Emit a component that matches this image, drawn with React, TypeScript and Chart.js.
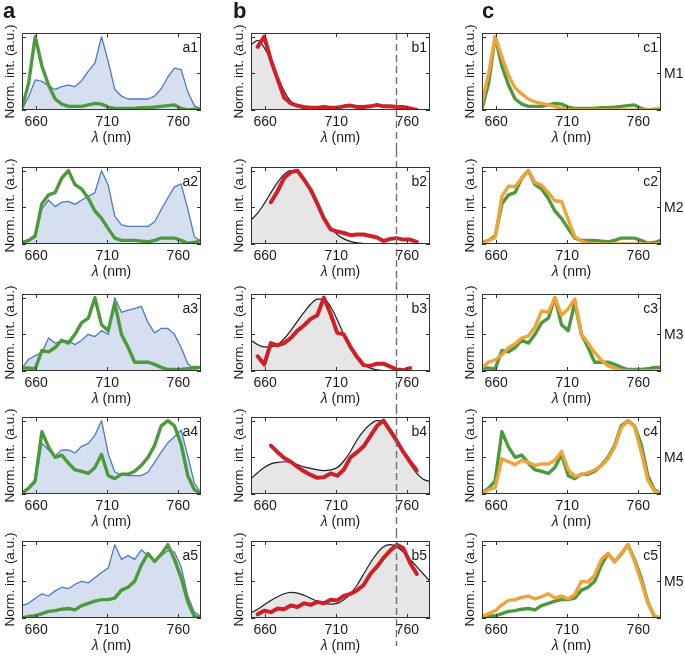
import React, { useEffect, useRef } from "react";
import { Chart, registerables } from "chart.js";

Chart.register(...registerables);

const FONT = '"Liberation Sans", Arial, Helvetica, sans-serif';

// ---------------- data ----------------
const WAVELENGTH_NM = [650, 654.7, 659.3, 664, 668.7, 673.3, 678, 682.7, 687.3, 692, 696.7, 701.3, 706, 710.7, 715.3, 720, 724.7, 729.3, 734, 738.7, 743.3, 748, 752.7, 757.3, 762, 766.7, 771.3, 776];
const X_MIN = 650;
const X_MAX = 776;
const Y_MAX = 1.05;
const X_TICKS = [660, 710, 760];
const Y_TICKS = [0, 0.5, 1];
const SELECTED_NM = 752;

const COLUMN_LETTERS = ["a", "b", "c"];
const COMPONENT_LABELS = ["M1", "M2", "M3", "M4", "M5"];
const Y_TITLE = "Norm. int. (a.u.)";
const X_TITLE_SYMBOL = "λ";
const X_TITLE_UNIT = " (nm)";

// column a: measured spectra (blue, filled)
const BLUE_A1 = [0.01, 0.18, 0.41, 0.39, 0.33, 0.28, 0.32, 0.34, 0.32, 0.4, 0.53, 0.64, 1.0, 0.66, 0.28, 0.19, 0.15, 0.15, 0.15, 0.15, 0.19, 0.29, 0.45, 0.57, 0.55, 0.25, 0.06, 0.01];
const BLUE_A2 = [0.02, 0.04, 0.09, 0.48, 0.6, 0.51, 0.57, 0.58, 0.54, 0.6, 0.65, 0.7, 1.0, 0.8, 0.38, 0.26, 0.24, 0.24, 0.24, 0.24, 0.3, 0.47, 0.63, 0.78, 0.82, 0.48, 0.1, 0.03];
const BLUE_A3 = [0.04, 0.16, 0.21, 0.25, 0.45, 0.38, 0.41, 0.41, 0.36, 0.42, 0.5, 0.47, 0.55, 0.5, 1.0, 0.8, 0.83, 0.85, 0.88, 0.66, 0.52, 0.58, 0.58, 0.5, 0.32, 0.1, 0.02, 0.0];
const BLUE_A4 = [0.0, 0.07, 0.15, 0.69, 0.6, 0.52, 0.6, 0.6, 0.56, 0.65, 0.69, 0.8, 1.0, 0.55, 0.3, 0.26, 0.25, 0.25, 0.25, 0.3, 0.43, 0.57, 0.7, 0.78, 0.87, 0.52, 0.15, 0.01];
const BLUE_A5 = [0.17, 0.2, 0.27, 0.33, 0.3, 0.37, 0.42, 0.4, 0.46, 0.5, 0.48, 0.55, 0.62, 0.68, 1.0, 0.8, 0.85, 0.8, 0.93, 0.85, 0.78, 0.85, 0.92, 0.9, 0.7, 0.3, 0.08, 0.02];

// components M1..M5 (green, used in columns a and c)
const GREEN_M1 = [0.02, 0.37, 1.0, 0.6, 0.34, 0.15, 0.08, 0.05, 0.05, 0.05, 0.07, 0.09, 0.08, 0.04, 0.02, 0.02, 0.02, 0.02, 0.03, 0.03, 0.04, 0.05, 0.06, 0.07, 0.02, 0.0, 0.01, 0.01];
const GREEN_M2 = [0.02, 0.05, 0.11, 0.55, 0.67, 0.7, 0.9, 1.0, 0.81, 0.75, 0.62, 0.45, 0.35, 0.21, 0.08, 0.05, 0.05, 0.05, 0.04, 0.03, 0.05, 0.08, 0.08, 0.08, 0.05, 0.01, 0.02, 0.05];
const GREEN_M3 = [0.04, 0.04, 0.03, 0.28, 0.26, 0.32, 0.42, 0.38, 0.5, 0.66, 0.72, 1.0, 0.63, 0.55, 0.93, 0.5, 0.32, 0.12, 0.12, 0.12, 0.09, 0.05, 0.02, 0.02, 0.02, 0.03, 0.05, 0.05];
const GREEN_M4 = [0.01, 0.08, 0.18, 0.85, 0.64, 0.5, 0.53, 0.42, 0.33, 0.31, 0.28, 0.36, 0.54, 0.25, 0.21, 0.27, 0.27, 0.31, 0.39, 0.5, 0.66, 0.93, 1.0, 0.93, 0.68, 0.25, 0.06, 0.0];
const GREEN_M5 = [0.0, 0.02, 0.03, 0.06, 0.09, 0.1, 0.12, 0.13, 0.11, 0.17, 0.2, 0.23, 0.25, 0.25, 0.27, 0.38, 0.42, 0.5, 0.72, 0.88, 0.77, 0.87, 1.0, 0.8, 0.55, 0.22, 0.02, 0.0];

// column c: reference spectra (orange)
const ORANGE_M1 = [0.1, 0.5, 1.0, 0.72, 0.47, 0.3, 0.22, 0.15, 0.11, 0.09, 0.07, 0.05, 0.02, 0.0, 0.0, 0.0, 0.0, 0.0, 0.0, 0.0, 0.0, 0.0, 0.0, 0.0, 0.0, 0.0, 0.0, 0.0];
const ORANGE_M2 = [0.01, 0.05, 0.09, 0.65, 0.79, 0.78, 0.9, 1.0, 0.84, 0.8, 0.7, 0.59, 0.58, 0.33, 0.1, 0.04, 0.01, 0.0, 0.0, 0.0, 0.0, 0.0, 0.0, 0.0, 0.0, 0.0, 0.0, 0.0];
const ORANGE_M3 = [0.05, 0.12, 0.15, 0.22, 0.32, 0.37, 0.45, 0.48, 0.6, 0.82, 0.8, 1.0, 0.76, 0.85, 0.98, 0.5, 0.38, 0.25, 0.15, 0.07, 0.04, 0.01, 0.0, 0.0, 0.0, 0.0, 0.0, 0.0];
const ORANGE_M4 = [0.0, 0.06, 0.09, 0.48, 0.44, 0.4, 0.46, 0.43, 0.39, 0.41, 0.41, 0.46, 0.58, 0.33, 0.24, 0.26, 0.29, 0.33, 0.38, 0.48, 0.64, 0.9, 1.0, 0.92, 0.58, 0.19, 0.04, 0.0];
const ORANGE_M5 = [0.02, 0.06, 0.1, 0.18, 0.24, 0.25, 0.28, 0.3, 0.26, 0.29, 0.33, 0.27, 0.3, 0.26, 0.32, 0.5, 0.49, 0.58, 0.8, 0.88, 0.76, 0.88, 1.0, 0.78, 0.5, 0.2, 0.03, 0.0];

// column b: measured (red) and fitted (black, grey fill)
const RED_B1 = [null, 0.86, 1.0, 0.68, 0.42, 0.17, 0.09, 0.06, 0.04, 0.03, 0.03, 0.04, 0.03, 0.03, 0.05, 0.06, 0.04, 0.04, 0.05, 0.07, 0.05, 0.05, 0.04, 0.04, 0.02, 0.0, null, null];
const RED_B2 = [null, null, null, 0.57, 0.72, 0.9, 0.98, 1.0, 0.88, 0.74, 0.55, 0.35, 0.2, 0.17, 0.15, 0.12, 0.13, 0.13, 0.11, 0.09, 0.04, 0.07, 0.08, 0.06, 0.06, 0.03, null, null];
const RED_B3 = [null, 0.2, 0.09, 0.38, 0.35, 0.38, 0.45, 0.55, 0.62, 0.71, 0.76, 1.0, 0.78, 0.52, 0.5, 0.33, 0.19, 0.08, 0.07, 0.1, 0.1, 0.06, 0.02, 0.01, 0.04, null, null, null];
const RED_B4 = [null, null, null, 0.66, 0.57, 0.49, 0.44, 0.37, 0.31, 0.26, 0.22, 0.23, 0.28, 0.25, 0.33, 0.5, 0.57, 0.65, 0.79, 0.93, 1.0, 0.86, 0.72, 0.57, 0.44, 0.32, null, null];
const RED_B5 = [null, 0.05, 0.1, 0.08, 0.13, 0.12, 0.17, 0.15, 0.2, 0.18, 0.22, 0.2, 0.25, 0.24, 0.3, 0.33, 0.38, 0.45, 0.6, 0.7, 0.82, 0.92, 1.0, 0.95, 0.75, 0.6, null, null];
const FIT_B1 = [0.89, 0.95, 0.85, 0.68, 0.46, 0.26, 0.12, 0.05, 0.02, 0.01, 0.0, 0.0, 0.0, 0.0, 0.0, 0.0, 0.0, 0.0, 0.0, 0.0, 0.0, 0.0, 0.0, 0.0, 0.0, 0.0, 0.0, 0.0];
const FIT_B2 = [0.33, 0.42, 0.55, 0.7, 0.84, 0.95, 1.0, 0.98, 0.88, 0.72, 0.54, 0.37, 0.23, 0.13, 0.07, 0.035, 0.015, 0.005, 0.0, 0.0, 0.0, 0.0, 0.0, 0.0, 0.0, 0.0, 0.0, 0.0];
const FIT_B3 = [0.42, 0.36, 0.33, 0.33, 0.36, 0.44, 0.55, 0.68, 0.8, 0.91, 0.98, 0.98, 0.88, 0.7, 0.5, 0.32, 0.17, 0.08, 0.04, 0.015, 0.005, 0.0, 0.0, 0.0, 0.0, 0.0, 0.0, 0.0];
const FIT_B4 = [0.21, 0.29, 0.36, 0.41, 0.43, 0.44, 0.43, 0.4, 0.37, 0.35, 0.33, 0.32, 0.33, 0.36, 0.45, 0.58, 0.74, 0.86, 0.95, 1.0, 0.99, 0.89, 0.75, 0.58, 0.41, 0.28, 0.2, 0.17];
const FIT_B5 = [0.07, 0.12, 0.18, 0.24, 0.29, 0.33, 0.35, 0.34, 0.31, 0.27, 0.23, 0.2, 0.19, 0.2, 0.25, 0.33, 0.45, 0.6, 0.75, 0.88, 0.97, 1.0, 0.97, 0.9, 0.8, 0.7, 0.6, 0.5];

const BLUE_A = [BLUE_A1, BLUE_A2, BLUE_A3, BLUE_A4, BLUE_A5];
const GREEN_M = [GREEN_M1, GREEN_M2, GREEN_M3, GREEN_M4, GREEN_M5];
const ORANGE_M = [ORANGE_M1, ORANGE_M2, ORANGE_M3, ORANGE_M4, ORANGE_M5];
const RED_B = [RED_B1, RED_B2, RED_B3, RED_B4, RED_B5];
const FIT_B = [FIT_B1, FIT_B2, FIT_B3, FIT_B4, FIT_B5];

// ---------------- style / layout ----------------
const BLUE = "#4a7ac4";
const BLUE_FILL = "#d5dff0";
const GREEN = "#4c9a3c";
const ORANGE = "#efa33a";
const RED = "#cf2027";
const BLACK = "#1e1e1e";
const GREY_FILL = "#e6e6e6";
const FRAME = "#333333";
const TEXT = "#1a1a1a";
const DASH = "#707070";

const PLOT_W = 179;
const PLOT_H = 77;
const PAD_LEFT = 22;
const COL_CANVAS_LEFT = [0, 229, 460];
const COL_CANVAS_W = [229, 231, 225];
const LETTER_X = [3, 233, 482];
const ROW_CANVAS_TOP = [0, 150, 283, 407, 531];
const ROW_CANVAS_BOTTOM = [150, 283, 407, 531, 658];
const ROW_PLOT_TOP = [33, 167, 294, 417, 541];

function points(arr: (number | null)[]) {
  return WAVELENGTH_NM.map((x, i) => ({ x, y: arr[i] }));
}

function Panel({ col, row }: { col: number; row: number }) {
  const ref = useRef<HTMLCanvasElement>(null);
  const left = COL_CANVAS_LEFT[col];
  const width = COL_CANVAS_W[col];
  const top = ROW_CANVAS_TOP[row];
  const height = ROW_CANVAS_BOTTOM[row] - top;

  useEffect(() => {
    if (!ref.current) return;
    const padTop = ROW_PLOT_TOP[row] - top;
    const padRight = width - PAD_LEFT - PLOT_W;
    const xAxisH = height - padTop - PLOT_H;
    const base = { pointRadius: 0, tension: 0, borderJoinStyle: "round" as const, borderCapStyle: "round" as const, spanGaps: false };

    let datasets: any[] = [];
    if (col === 0) {
      datasets = [
        { ...base, data: points(GREEN_M[row]), borderColor: GREEN, borderWidth: 3.4, fill: false },
        { ...base, data: points(BLUE_A[row]), borderColor: BLUE, borderWidth: 1.3, backgroundColor: BLUE_FILL, fill: "origin" },
      ];
    } else if (col === 1) {
      datasets = [
        { ...base, data: points(RED_B[row]), borderColor: RED, borderWidth: 4, fill: false },
        { ...base, data: points(FIT_B[row]), borderColor: BLACK, borderWidth: 1.2, backgroundColor: GREY_FILL, fill: "origin", cubicInterpolationMode: "monotone" },
      ];
    } else {
      datasets = [
        { ...base, data: points(ORANGE_M[row]), borderColor: ORANGE, borderWidth: 3.4, fill: false },
        { ...base, data: points(GREEN_M[row]), borderColor: GREEN, borderWidth: 3.4, fill: false },
      ];
    }

    const deco = {
      id: "deco",
      afterDatasetsDraw(chart: any) {
        const { ctx, chartArea: a, scales } = chart;
        const x = scales.x;
        const y = scales.y;
        ctx.save();
        // dashed selection line across column b
        if (col === 1) {
          const px = Math.round(x.getPixelForValue(SELECTED_NM)) + 0.5;
          const y0 = row === 0 ? a.top : 0;
          const y1 = row === 4 ? a.bottom + 28 : chart.height;
          ctx.strokeStyle = DASH;
          ctx.lineWidth = 1.4;
          ctx.setLineDash([7, 4]);
          ctx.beginPath();
          ctx.moveTo(px, y0);
          ctx.lineTo(px, y1);
          ctx.stroke();
          ctx.setLineDash([]);
        }
        // frame
        ctx.strokeStyle = FRAME;
        ctx.lineWidth = 1;
        ctx.strokeRect(a.left + 0.5, a.top + 0.5, a.right - a.left - 1, a.bottom - a.top - 1);
        // inward ticks
        ctx.beginPath();
        Y_TICKS.forEach((v) => {
          const py = Math.round(y.getPixelForValue(v)) + 0.5;
          ctx.moveTo(a.left, py);
          ctx.lineTo(a.left + 4, py);
          ctx.moveTo(a.right, py);
          ctx.lineTo(a.right - 4, py);
        });
        X_TICKS.forEach((v) => {
          const px = Math.round(x.getPixelForValue(v)) + 0.5;
          ctx.moveTo(px, a.bottom);
          ctx.lineTo(px, a.bottom - 4);
          ctx.moveTo(px, a.top);
          ctx.lineTo(px, a.top + 4);
        });
        ctx.stroke();

        ctx.fillStyle = TEXT;
        // panel label
        ctx.font = `14px ${FONT}`;
        ctx.textAlign = "right";
        ctx.textBaseline = "alphabetic";
        ctx.fillText(COLUMN_LETTERS[col] + (row + 1), a.right - 3, a.top + 19);
        // y title
        ctx.save();
        ctx.translate(a.left - 11.5, (a.top + a.bottom) / 2);
        ctx.rotate(-Math.PI / 2);
        ctx.font = `13.5px ${FONT}`;
        ctx.textAlign = "center";
        ctx.textBaseline = "middle";
        ctx.fillText(Y_TITLE, 0, 0);
        ctx.restore();
        // x title with italic lambda
        const cy = a.bottom + 28;
        const cx = (a.left + a.right) / 2;
        ctx.font = `italic 14px ${FONT}`;
        const w1 = ctx.measureText(X_TITLE_SYMBOL).width;
        ctx.font = `14px ${FONT}`;
        const w2 = ctx.measureText(X_TITLE_UNIT).width;
        const sx = cx - (w1 + w2) / 2;
        ctx.textAlign = "left";
        ctx.textBaseline = "middle";
        ctx.font = `italic 14px ${FONT}`;
        ctx.fillText(X_TITLE_SYMBOL, sx, cy);
        ctx.font = `14px ${FONT}`;
        ctx.fillText(X_TITLE_UNIT, sx + w1, cy);
        // component label on the right of column c
        if (col === 2) {
          ctx.font = `14px ${FONT}`;
          ctx.textAlign = "left";
          ctx.textBaseline = "middle";
          ctx.fillText(COMPONENT_LABELS[row], a.right + 3, (a.top + a.bottom) / 2 + 3);
        }
        // column letter
        if (row === 0) {
          ctx.font = `bold 22px ${FONT}`;
          ctx.textAlign = "left";
          ctx.textBaseline = "alphabetic";
          ctx.fillText(COLUMN_LETTERS[col], LETTER_X[col] - left, 18);
        }
        ctx.restore();
      },
    };

    const chart = new Chart(ref.current, {
      type: "line",
      data: { datasets },
      options: {
        responsive: false,
        animation: false,
        devicePixelRatio: 1,
        events: [],
        layout: { padding: { top: padTop, right: padRight, left: PAD_LEFT, bottom: 0 } },
        plugins: { legend: { display: false }, tooltip: { enabled: false }, title: { display: false } },
        scales: {
          x: {
            type: "linear",
            min: X_MIN,
            max: X_MAX,
            grid: { display: false, drawTicks: false },
            border: { display: false },
            ticks: { font: { size: 14, family: FONT }, color: TEXT, padding: 4, maxRotation: 0, autoSkip: false },
            afterBuildTicks: (s: any) => {
              s.ticks = X_TICKS.map((v) => ({ value: v }));
            },
            afterFit: (s: any) => {
              s.height = xAxisH;
            },
          },
          y: { display: false, min: 0, max: Y_MAX },
        },
      } as any,
      plugins: [deco],
    });
    return () => chart.destroy();
  }, []);

  return <canvas ref={ref} width={width} height={height} style={{ position: "absolute", left, top, width, height, display: "block" }} />;
}

export default function App() {
  const cells: JSX.Element[] = [];
  for (let row = 0; row < 5; row++) {
    for (let col = 0; col < 3; col++) {
      cells.push(<Panel key={`${col}-${row}`} col={col} row={row} />);
    }
  }
  return (
    <div style={{ position: "absolute", left: 0, top: 0, width: 685, height: 658, background: "#ffffff", overflow: "hidden" }}>
      {cells}
    </div>
  );
}
